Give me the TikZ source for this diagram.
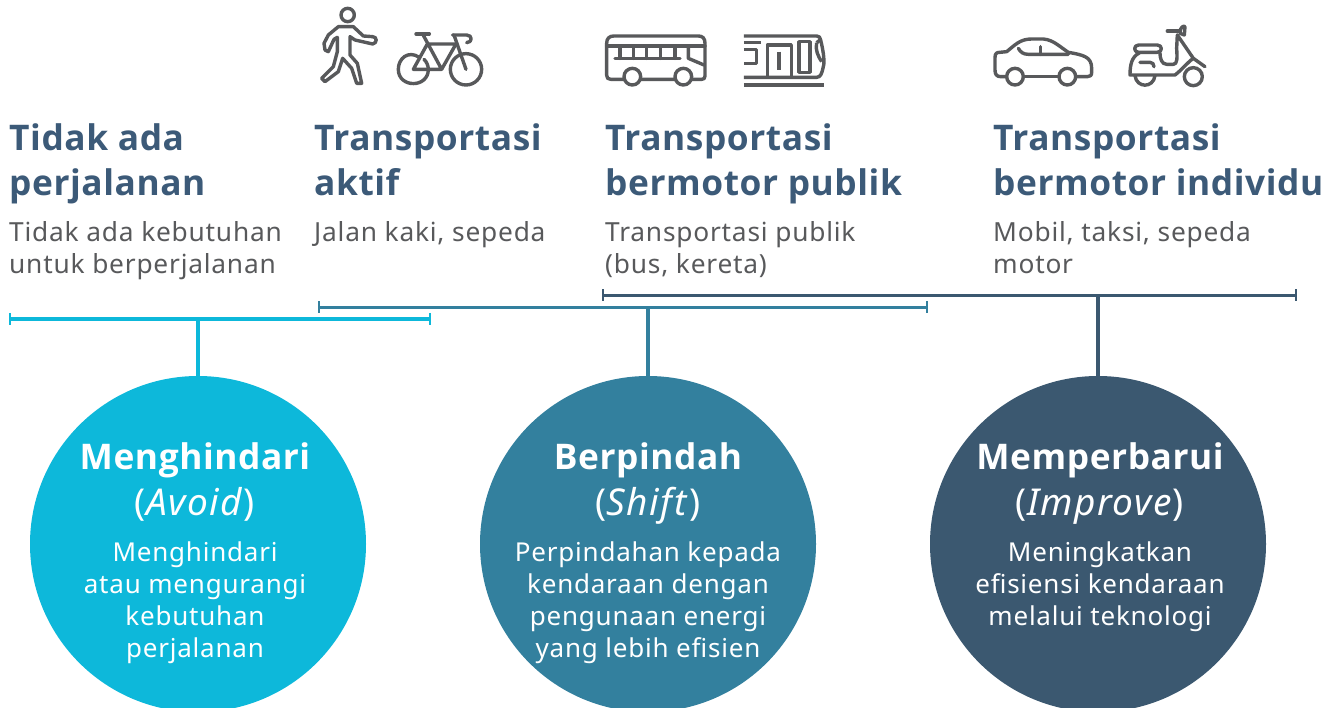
\documentclass[tikz,border=0pt]{standalone}
\usepackage{fontspec}
\setmainfont{Open Sans}
\newfontfamily\headf[LetterSpace=1.6]{Open Sans}
\newfontfamily\subf[LetterSpace=4.0]{Noto Sans}
\newfontfamily\bodyf[LetterSpace=3.0]{Noto Sans}
\definecolor{head}{HTML}{3C5A78}
\definecolor{bodyc}{HTML}{58595B}
\definecolor{ccy}{HTML}{0DB8DA}
\definecolor{cte}{HTML}{33809E}
\definecolor{cna}{HTML}{3B5870}
\tikzset{
 x=1pt,y=-1pt,
 hd/.style={anchor=base west,inner sep=0pt,xshift=-1pt,yshift=-1pt,text=head,font=\headf\fontsize{35.3}{35.3}\selectfont\bfseries},
 bd/.style={anchor=base west,inner sep=0pt,xshift=-1pt,yshift=-1pt,text=bodyc,font=\bodyf\fontsize{26.3}{26.3}\selectfont},
 ct/.style={anchor=base,inner sep=0pt,text=white,font=\headf\fontsize{35.3}{35.3}\selectfont\bfseries},
 cs/.style={anchor=base,inner sep=0pt,text=white,font=\subf\fontsize{37}{37}\selectfont},
 cb/.style={anchor=base,inner sep=0pt,text=white,font=\bodyf\fontsize{26}{26}\selectfont},
 disc/.style={circle,fill=#1,minimum size=336pt,inner sep=0pt,draw=none},
 rail/.style={line width=3.2pt,draw=#1},
 tick/.style={line width=2.6pt,draw=#1},
 icon/.style={draw=bodyc,line width=3.4pt,line join=round,line cap=round,x=0.3333pt,y=-0.3333pt},
}
\begin{document}
\begin{tikzpicture}
\useasboundingbox (0,0) rectangle (1336,708);
\clip (0,0) rectangle (1336,708);
% discs
\node[disc=ccy] (A) at (198,544) {};
\node[disc=cte] (B) at (648,544) {};
\node[disc=cna] (C) at (1098,544) {};
% rails
\coordinate (a1) at (10,319); \coordinate (a2) at (430,319); \coordinate (am) at (198,319);
\coordinate (b1) at (319,307.5); \coordinate (b2) at (927,307.5); \coordinate (bm) at (648,307.5);
\coordinate (c1) at (603,295.5); \coordinate (c2) at (1296,295.5); \coordinate (cm) at (1098,295.5);
\draw[rail=cte] (b1) -- (b2);
\draw[rail=cte] (B.north) -- (bm);
\draw[tick=cte] ([yshift=6pt]b1) -- ([yshift=-6pt]b1);
\draw[tick=cte] ([yshift=6pt]b2) -- ([yshift=-6pt]b2);
\draw[rail=ccy] (a1) -- (a2);
\draw[rail=ccy] (A.north) -- (am);
\draw[tick=ccy] ([yshift=6pt]a1) -- ([yshift=-6pt]a1);
\draw[tick=ccy] ([yshift=6pt]a2) -- ([yshift=-6pt]a2);
\draw[rail=cna] (c1) -- (c2);
\draw[rail=cna] (C.north) -- (cm);
\draw[tick=cna] ([yshift=6pt]c1) -- ([yshift=-6pt]c1);
\draw[tick=cna] ([yshift=6pt]c2) -- ([yshift=-6pt]c2);
% headings
\node[hd] (t1a) at (10,150) {Tidak ada};
\node[hd] (t1b) at (10,195) {perjalanan};
\node[bd] (d1a) at (10,241) {Tidak ada kebutuhan};
\node[bd] (d1b) at (10,273) {untuk berperjalanan};
\node[hd] (t2a) at (315,150) {Transportasi};
\node[hd] (t2b) at (315,195) {aktif};
\node[bd] (d2a) at (315,241) {Jalan kaki, sepeda};
\node[hd] (t3a) at (606,150) {Transportasi};
\node[hd] (t3b) at (606,195) {bermotor publik};
\node[bd] (d3a) at (606,241) {Transportasi publik};
\node[bd] (d3b) at (606,273) {(bus, kereta)};
\node[hd] (t4a) at (994,150) {Transportasi};
\node[hd] (t4b) at (994,195) {bermotor individu};
\node[bd] (d4a) at (994,241) {Mobil, taksi, sepeda};
\node[bd] (d4b) at (994,273) {motor};
% circle texts
\node[ct] (ca1) at (195,469) {Menghindari};
\node[cs] (ca2) at (195,515) {(\textit{Avoid})};
\node[cb] (ca3) at (195,561) {Menghindari};
\node[cb] (ca4) at (195,593) {atau mengurangi};
\node[cb] (ca5) at (195,625) {kebutuhan};
\node[cb] (ca6) at (195,657) {perjalanan};
\node[ct] (cb1) at (648,469) {Berpindah};
\node[cs] (cb2) at (648,515) {(\textit{Shift})};
\node[cb] (cb3) at (648,561) {Perpindahan kepada};
\node[cb] (cb4) at (648,593) {kendaraan dengan};
\node[cb] (cb5) at (648,625) {pengunaan energi};
\node[cb] (cb6) at (648,657) {yang lebih efisien};
\node[ct] (cc1) at (1100,469) {Memperbarui};
\node[cs] (cc2) at (1100,515) {(\textit{Improve})};
\node[cb] (cc3) at (1100,561) {Meningkatkan};
\node[cb] (cc4) at (1100,593) {efisiensi kendaraan};
\node[cb] (cc5) at (1100,625) {melalui teknologi};
% walker + bike
\begin{scope}[shift={(300,0)},icon]
\draw (143,45) circle[radius=20];
\draw (115,80) -- (85,105) -- (72,130) -- (75,150) -- (85,155) -- (102,118) -- (112,112) -- (112,155) -- (100,200) -- (65,235) -- (75,245) -- (115,215) -- (128,175) -- (155,205) -- (170,250) -- (185,250) -- (172,190) -- (150,165) -- (150,110) -- (165,120) -- (218,132) .. controls (232,130) and (232,110) .. (218,110) -- (190,108) -- (160,80) -- cycle;
\draw (358,172) .. controls (325,150) and (295,175) .. (295,208) .. controls (295,265) and (385,265) .. (385,208) .. controls (385,198) and (380,185) .. (372,178);
\draw (498,208) circle[radius=47];
\draw (348,102) -- (388,102);
\draw (368,102) -- (425,208) -- (340,208) -- (382,132) -- (468,132) -- (425,208);
\draw (498,208) -- (462,105);
\draw (458,105) -- (500,105) .. controls (518,105) and (518,128) .. (500,128);
\end{scope}
% bus + train
\begin{scope}[shift={(590,20)},icon]
\draw (62,178) .. controls (54,178) and (50,174) .. (50,166) -- (50,70) .. controls (50,55) and (58,48) .. (72,48) -- (325,48) .. controls (338,48) and (345,55) .. (345,70) -- (345,168) .. controls (345,175) and (342,178) .. (335,178) -- cycle;
\draw (50,78) -- (345,78);
\draw (75,115) -- (270,115);
\foreach \vx in {90,130,170,212,255} \draw (\vx,78) -- (\vx,115);
\draw (295,78) -- (295,115) -- (342,135);
\draw[fill=white] (127,170) circle[radius=25];
\draw[fill=white] (280,170) circle[radius=25];
\end{scope}
\begin{scope}[shift={(590,20)},icon,line cap=butt]
\draw (462,48) -- (680,48) .. controls (688,48) and (690,52) .. (692,60) .. controls (702,100) and (704,130) .. (700,140) .. controls (696,160) and (692,172) .. (680,172) -- (462,172);
\draw (680,68) .. controls (675,90) and (685,110) .. (695,125);
\draw (680,68) -- (690,60);
\draw[line width=3.6pt] (462,68) -- (512,68);
\draw (462,88) -- (500,88) -- (500,130) -- (462,130);
\draw (532,172) -- (532,75) -- (604,75) -- (604,172);
\draw[line width=3.6pt] (567,95) -- (567,150);
\draw (627,65) rectangle (660,157);
\draw[line width=4pt] (462,195) -- (702,195);
\end{scope}
% car + scooter
\begin{scope}[shift={(980,15)},icon]
\draw (80,185) -- (62,185) .. controls (50,185) and (45,178) .. (45,165) -- (45,128) .. controls (45,115) and (50,112) .. (60,112) -- (80,110) .. controls (105,90) and (120,72) .. (155,72) -- (190,72) .. controls (220,75) and (235,92) .. (265,112) .. controls (310,120) and (335,125) .. (335,160) -- (335,172) .. controls (335,182) and (330,185) .. (322,185) -- (288,185);
\draw (130,185) -- (236,185);
\draw (115,100) .. controls (122,112) and (130,118) .. (145,118) -- (265,118);
\draw (182,95) -- (182,118);
\draw (105,185) circle[radius=25];
\draw (262,185) circle[radius=25];
\end{scope}
\begin{scope}[shift={(980,15)},icon]
\draw (476,90) -- (532,90) .. controls (548,90) and (548,112) .. (532,112) -- (476,112) .. controls (460,112) and (460,90) .. (476,90) -- cycle;
\draw (478,114) .. controls (455,125) and (450,150) .. (450,180) -- (530,180) -- (585,180) .. controls (605,165) and (625,140) .. (640,130);
\draw (540,114) .. controls (540,130) and (545,148) .. (560,148) -- (580,148) .. controls (592,148) and (592,130) .. (590,100) -- (592,60);
\draw (592,60) -- (640,130) -- (675,155);
\draw (562,48) -- (600,48);
\draw (600,55) .. controls (598,38) and (612,30) .. (615,35) -- (613,60) -- (600,55);
\draw (480,142) -- (510,142) .. controls (518,142) and (522,148) .. (522,155);
\draw (465,182) .. controls (470,220) and (520,220) .. (525,182);
\draw (640,185) circle[radius=27];
\end{scope}
\end{tikzpicture}
\end{document}
